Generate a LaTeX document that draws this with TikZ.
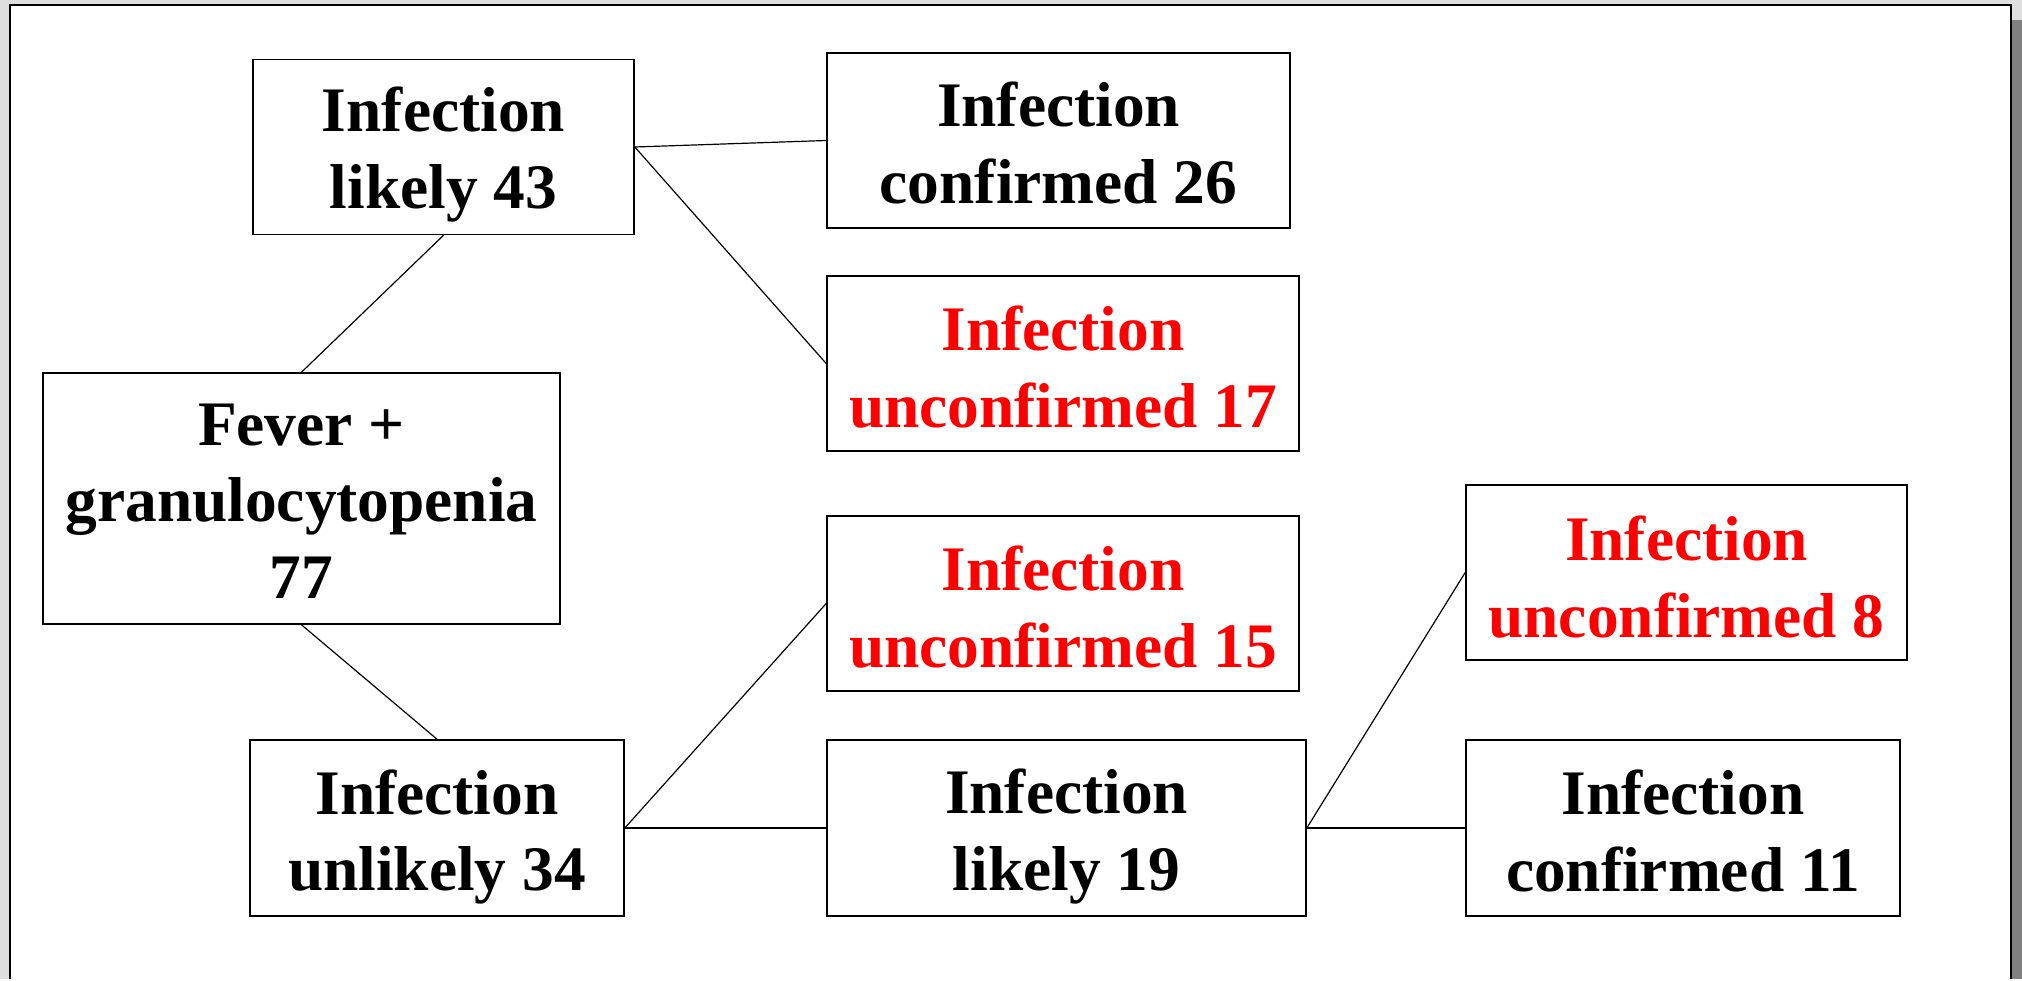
\documentclass[tikz,border=0pt]{standalone}
\usepackage{fontspec}
\setmainfont{Liberation Serif}
\usetikzlibrary{calc}
\begin{document}
\begin{tikzpicture}[x=0.5pt,y=-0.5pt,
  stage/.style={draw=black,line width=0.8pt,fill=white,rectangle,inner sep=0pt},
  caption/.style={inner sep=0pt,align=center,font=\bfseries\fontsize{31.7}{38.4}\selectfont},
  alert/.style={text=red},
  link/.style={draw=black,line width=0.6pt}]
  % window backdrop and page
  \fill[gray!25] (0,0) rectangle (2022,979);
  \fill[black!50] (2012,20) rectangle (2022,979);
  \fill[white] (10,5) rectangle (2011,979);
  \draw[line width=1.2pt] (10,979) -- (10,5) -- (2011,5) -- (2011,979);
  \useasboundingbox (0,0) rectangle (2022,979);

  % stages of the decision tree
  \node[stage,minimum width=190.5pt,minimum height=87.5pt] (l43) at (443.5,147) {};
  \node[stage,minimum width=231.5pt,minimum height=87.5pt] (c26) at (1058.5,140.5) {};
  \node[stage,minimum width=236pt,minimum height=87.5pt] (u17) at (1063,363.5) {};
  \node[stage,minimum width=258.5pt,minimum height=125.5pt] (fever) at (301.5,498.5) {};
  \node[stage,minimum width=236pt,minimum height=87.5pt] (u15) at (1063,603.5) {};
  \node[stage,minimum width=187pt,minimum height=88pt] (ul34) at (437,828) {};
  \node[stage,minimum width=239.5pt,minimum height=88pt] (l19) at (1066.5,828) {};
  \node[stage,minimum width=220.5pt,minimum height=87.5pt] (u8) at (1686.5,572.5) {};
  \node[stage,minimum width=217pt,minimum height=88pt] (c11) at (1683,828) {};

  % their labels
  \node[caption] (l43t) at ($(l43)+(0,7.7)$) {Infection\\likely 43};
  \node[caption] (c26t) at ($(c26)+(0,2.6)$) {Infection\\confirmed 26};
  \node[caption,alert] (u17t) at ($(u17)+(0,3.2)$) {Infection\\unconfirmed 17};
  \node[caption] (fevert) at ($(fever)+(0,2.6)$) {Fever +\\granulocytopenia\\77};
  \node[caption,alert] (u15t) at ($(u15)+(0,3.2)$) {Infection\\unconfirmed 15};
  \node[caption] (ul34t) at ($(ul34)+(0,9)$) {Infection\\unlikely 34};
  \node[caption] (l19t) at ($(l19)+(0,8.4)$) {Infection\\likely 19};
  \node[caption,alert] (u8t) at ($(u8)+(0,4.5)$) {Infection\\unconfirmed 8};
  \node[caption] (c11t) at ($(c11)+(0,2.6)$) {Infection\\confirmed 11};

  % branches
  \draw[link] (l43.east) -- (c26.west);
  \draw[link] (l43.east) -- (u17.west);
  \draw[link] (l43.south) -- (fever.north);
  \draw[link] (fever.south) -- (ul34.north);
  \draw[link] (ul34.east) -- (u15.west);
  \draw[link] (ul34.east) -- (l19.west);
  \draw[link] (l19.east) -- (u8.west);
  \draw[link] (l19.east) -- (c11.west);
\end{tikzpicture}
\end{document}
